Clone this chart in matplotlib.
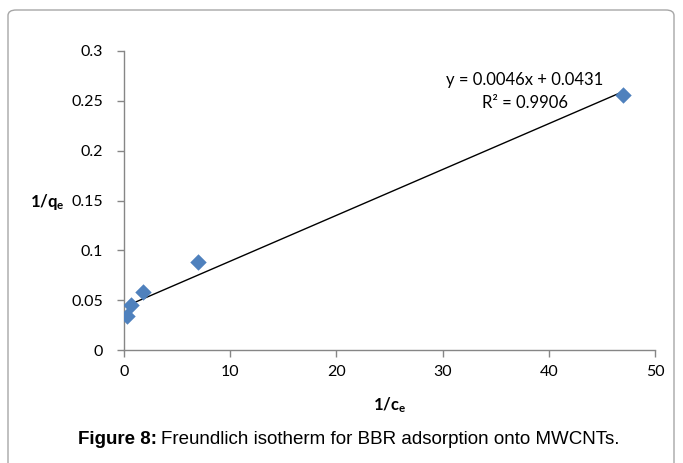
import numpy as np
import matplotlib.pyplot as plt
from matplotlib.patches import FancyBboxPatch

# data
inv_ce = [0.3, 0.7, 1.8, 7.0, 47.0]
inv_qe = [0.034, 0.045, 0.058, 0.088, 0.256]
slope = 0.0046
intercept = 0.0431
x_ticks = [0, 10, 20, 30, 40, 50]
y_ticks = [0, 0.05, 0.1, 0.15, 0.2, 0.25, 0.3]
y_tick_labels = ['0', '0.05', '0.1', '0.15', '0.2', '0.25', '0.3']

plt.rcParams['mathtext.fontset'] = 'custom'
plt.rcParams['mathtext.rm'] = 'Lato'
plt.rcParams['mathtext.bf'] = 'Lato:bold'

W, H = 683, 463
fig = plt.figure(figsize=(W / 100, H / 100), dpi=100)

# rounded frame around the figure (bottom runs off the image)
frame = FancyBboxPatch((8 / W, -0.05), (W - 9) / W - 8 / W, 1 - 10 / H + 0.05,
                       boxstyle='round,pad=0,rounding_size=0.012',
                       transform=fig.transFigure, facecolor='none',
                       edgecolor='#a6a6a6', linewidth=1.0)
fig.patches.append(frame)

ax = fig.add_axes([124 / W, 1 - 350 / H, (655 - 124) / W, (350 - 51) / H])

gray = '#868686'
tick_font = 'Lato'

xs = np.array([min(inv_ce), max(inv_ce)])
ax.plot(xs, slope * xs + intercept, color='black', linewidth=1.0, zorder=2)
ax.scatter(inv_ce, inv_qe, marker='D', s=70, color='#4f81bd', zorder=3, linewidths=0)

ax.set_xlim(0, 50)
ax.set_ylim(0, 0.3)
ax.set_xticks(x_ticks)
ax.set_yticks(y_ticks)
ax.set_yticklabels(y_tick_labels)

for side in ['top', 'right']:
    ax.spines[side].set_visible(False)
for side in ['left', 'bottom']:
    ax.spines[side].set_color(gray)
    ax.spines[side].set_linewidth(1.0)

ax.tick_params(axis='both', colors=gray, labelcolor='black', length=5, width=1.0,
               labelsize=11.5)
ax.tick_params(axis='x', pad=6)
ax.tick_params(axis='y', pad=10)
for lab in ax.get_xticklabels() + ax.get_yticklabels():
    lab.set_family(tick_font)

fig.text(525 / W, 1 - 80 / H, 'y = 0.0046x + 0.0431', ha='center', va='center',
         fontsize=12, family=tick_font)
fig.text(525 / W, 1 - 103 / H, 'R² = 0.9906', ha='center', va='center',
         fontsize=12, family=tick_font)

fig.text(30 / W, 1 - 202 / H, r'$\mathbf{1/q_e}$', ha='left', va='center',
         fontsize=12)
fig.text(390 / W, 1 - 405 / H, r'$\mathbf{1/c_e}$', ha='center', va='center',
         fontsize=12)

cap = fig.text(78 / W, 1 - 440 / H, 'Figure 8:', ha='left', va='center',
               fontsize=13.5, fontweight='bold', family='Liberation Sans')
fig.canvas.draw()
bb = cap.get_window_extent()
fig.text((bb.x1 + 4) / W, 1 - 440 / H,
         'Freundlich isotherm for BBR adsorption onto MWCNTs.',
         ha='left', va='center', fontsize=13.5, family='Liberation Sans')

fig.savefig('out.png', dpi=100)
